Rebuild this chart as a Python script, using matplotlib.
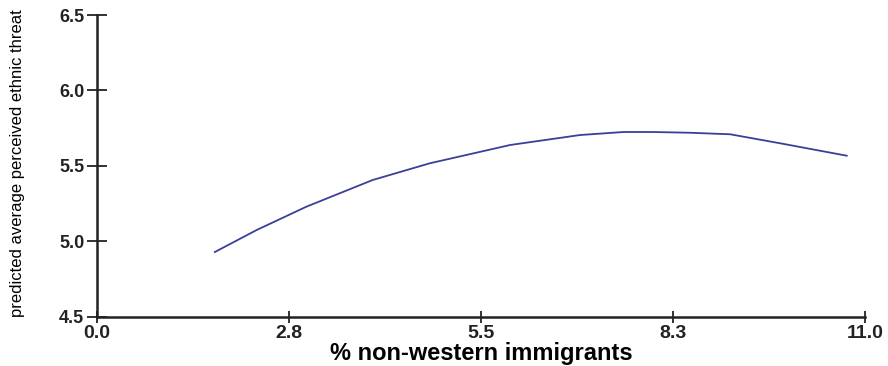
import numpy as np
import matplotlib.pyplot as plt

# predicted threat along the immigrant share
pct_immigrants = [1.69, 2.29, 3.00, 3.95, 4.77, 5.92, 6.92, 7.54, 7.97, 8.50, 9.07, 9.79, 10.74]
pred_threat = [4.93, 5.076, 5.23, 5.407, 5.518, 5.639, 5.705, 5.725, 5.725, 5.72, 5.71, 5.65, 5.568]

xticks = [0.0, 2.75, 5.5, 8.25, 11.0]
xticklabels = ["0.0", "2.8", "5.5", "8.3", "11.0"]
yticks = [4.5, 5.0, 5.5, 6.0, 6.5]
yticklabels = ["4.5", "5.0", "5.5", "6.0", "6.5"]

fig = plt.figure(figsize=(8.88, 3.66), dpi=100)
ax = fig.add_axes([0.109, 0.134, 0.865, 0.825])

ax.plot(pct_immigrants, pred_threat, color="#3a3f98", lw=1.3)

ax.set_xlim(0, 11)
ax.set_ylim(4.5, 6.5)
ax.set_xticks(xticks)
ax.set_xticklabels(xticklabels, fontsize=14, fontweight="bold", family="Liberation Sans")
ax.set_yticks(yticks)
ax.set_yticklabels(yticklabels, fontsize=13, fontweight="bold", family="Liberation Sans")

for s in ["top", "right"]:
    ax.spines[s].set_visible(False)
for s in ["left", "bottom"]:
    ax.spines[s].set_linewidth(1.8)
    ax.spines[s].set_color("#222222")

ax.tick_params(axis="x", direction="inout", length=8, width=1.3, pad=2, colors="#222222")
ax.tick_params(axis="y", direction="inout", length=14, width=1.3, pad=2, colors="#222222")

ax.set_xlabel("% non-western immigrants", fontsize=17, fontweight="bold",
              family="Liberation Sans", labelpad=0)
ax.set_ylabel("predicted average perceived ethnic threat", fontsize=12,
              family="Liberation Sans")
ax.yaxis.set_label_coords(-0.094, 0.51)

fig.savefig("out.png", dpi=100)
